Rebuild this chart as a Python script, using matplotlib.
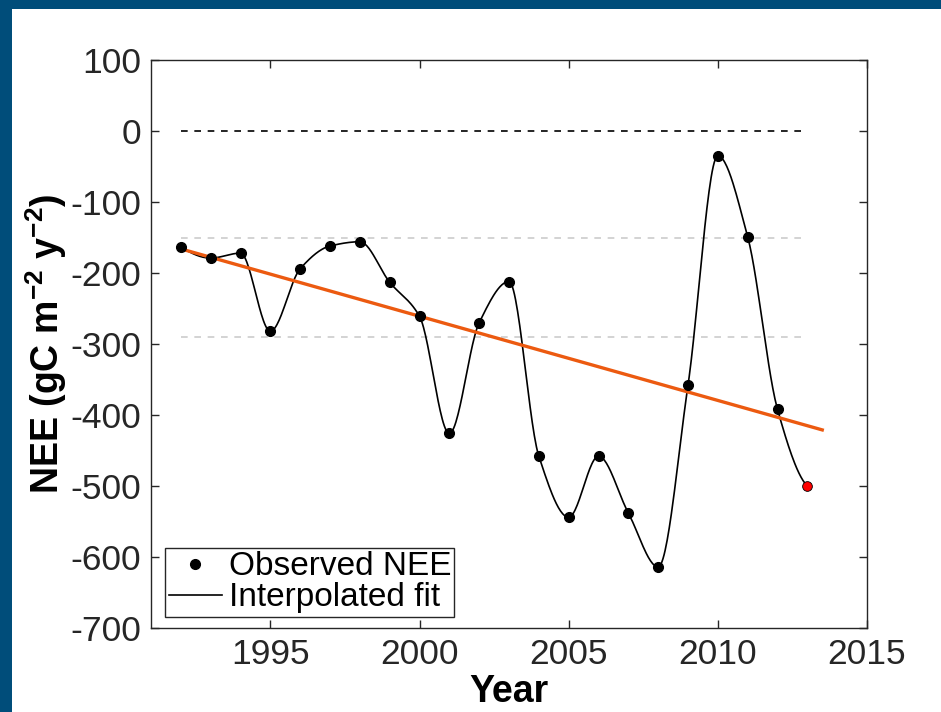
"""NEE time series with interpolated fit and linear trend."""
import matplotlib
matplotlib.use("Agg")
import matplotlib.pyplot as plt
import numpy as np
from matplotlib.lines import Line2D
from matplotlib.patches import Rectangle

plt.rcParams["font.family"] = ["Liberation Sans", "DejaVu Sans"]
plt.rcParams["axes.unicode_minus"] = False
plt.rcParams["mathtext.fontset"] = "custom"
plt.rcParams["mathtext.rm"] = "Liberation Sans"
plt.rcParams["mathtext.bf"] = "Liberation Sans:bold"

# observed annual NEE (gC m-2 y-1)
years = [1992, 1993, 1994, 1995, 1996, 1997, 1998, 1999, 2000, 2001, 2002,
         2003, 2004, 2005, 2006, 2007, 2008, 2009, 2010, 2011, 2012, 2013]
nee = [-163, -179, -172, -282, -194, -162, -156, -213, -261, -426, -270,
       -212, -458, -544, -458, -538, -614, -358, -35, -149, -392, -500]

# linear trend endpoints
trend_years = [1992, 2013.5]
trend_vals = [-166, -421]

# reference levels
zero_level = 0
band_levels = [-150, -290]

BLUE = "#004D7A"
ORANGE = "#EC5A10"


def pchip(x, y, xi):
    x = np.asarray(x, float)
    y = np.asarray(y, float)
    h = np.diff(x)
    delta = np.diff(y) / h
    d = np.zeros_like(y)
    for k in range(1, len(x) - 1):
        if delta[k - 1] * delta[k] > 0:
            w1 = 2 * h[k] + h[k - 1]
            w2 = h[k] + 2 * h[k - 1]
            d[k] = (w1 + w2) / (w1 / delta[k - 1] + w2 / delta[k])

    def end_slope(h0, h1, d0, d1):
        s = ((2 * h0 + h1) * d0 - h0 * d1) / (h0 + h1)
        if np.sign(s) != np.sign(d0):
            s = 0.0
        elif np.sign(d0) != np.sign(d1) and abs(s) > abs(3 * d0):
            s = 3 * d0
        return s

    d[0] = end_slope(h[0], h[1], delta[0], delta[1])
    d[-1] = end_slope(h[-1], h[-2], delta[-1], delta[-2])

    idx = np.clip(np.searchsorted(x, xi) - 1, 0, len(x) - 2)
    t = (xi - x[idx]) / h[idx]
    h00 = 2 * t**3 - 3 * t**2 + 1
    h10 = t**3 - 2 * t**2 + t
    h01 = -2 * t**3 + 3 * t**2
    h11 = t**3 - t**2
    return h00 * y[idx] + h10 * h[idx] * d[idx] + h01 * y[idx + 1] + h11 * h[idx] * d[idx + 1]


fig = plt.figure(figsize=(9.41, 7.12), dpi=100)
fig.patch.set_facecolor(BLUE)
fig.add_artist(Rectangle((12 / 941, 0), 1, 1 - 9 / 712, transform=fig.transFigure,
                         facecolor="white", edgecolor="none", zorder=-1))

ax = fig.add_axes([151 / 941, 1 - 628 / 712, 716 / 941, 568 / 712])

ax.plot([years[0], years[-1]], [zero_level, zero_level], color="black",
        linestyle=(0, (4, 4)), linewidth=1.2)
for lvl in band_levels:
    ax.plot([years[0], years[-1]], [lvl, lvl], color="#cccccc",
            linestyle=(0, (4, 4)), linewidth=1.2)

xs = np.linspace(years[0], years[-1], 600)
ax.plot(xs, pchip(years, nee, xs), color="black", linewidth=1.2, zorder=3)
ax.plot(trend_years, trend_vals, color=ORANGE, linewidth=2.4, zorder=4)
ax.plot(years[:-1], nee[:-1], "o", color="black", markersize=7, zorder=5)
ax.plot(years[-1], nee[-1], "o", markerfacecolor="red", markeredgecolor="black",
        markeredgewidth=0.6, markersize=7, zorder=5)

ax.set_xlim(1991, 2015)
ax.set_ylim(-700, 100)
ax.set_xticks(np.arange(1995, 2016, 5))
ax.set_yticks(np.arange(-700, 101, 100))
ax.tick_params(direction="in", length=6, width=1, colors="#262626",
               labelsize=25.5, top=True, right=True, pad=7)
for sp in ax.spines.values():
    sp.set_color("#262626")
    sp.set_linewidth(1.0)

ax.set_xlabel("Year", fontsize=27, fontweight="bold", labelpad=2)
ax.set_ylabel(r"NEE (gC m$^{\mathbf{-2}}$ y$^{\mathbf{-2}}$)", fontsize=27,
              fontweight="bold", labelpad=1)

handles = [
    Line2D([], [], linestyle="none", marker="o", color="black", markersize=7),
    Line2D([], [], color="black", linewidth=1.2),
]
leg = ax.legend(handles, ["Observed NEE", "Interpolated fit"], loc="lower left",
                bbox_to_anchor=(0.02, 0.02), fontsize=24, frameon=True,
                fancybox=False, framealpha=1, edgecolor="#262626",
                borderpad=0.1, labelspacing=0.0, handlelength=1.6,
                handletextpad=0.2, borderaxespad=0)
leg.get_frame().set_linewidth(1.0)

fig.savefig("out.png", dpi=100, facecolor=fig.get_facecolor())
